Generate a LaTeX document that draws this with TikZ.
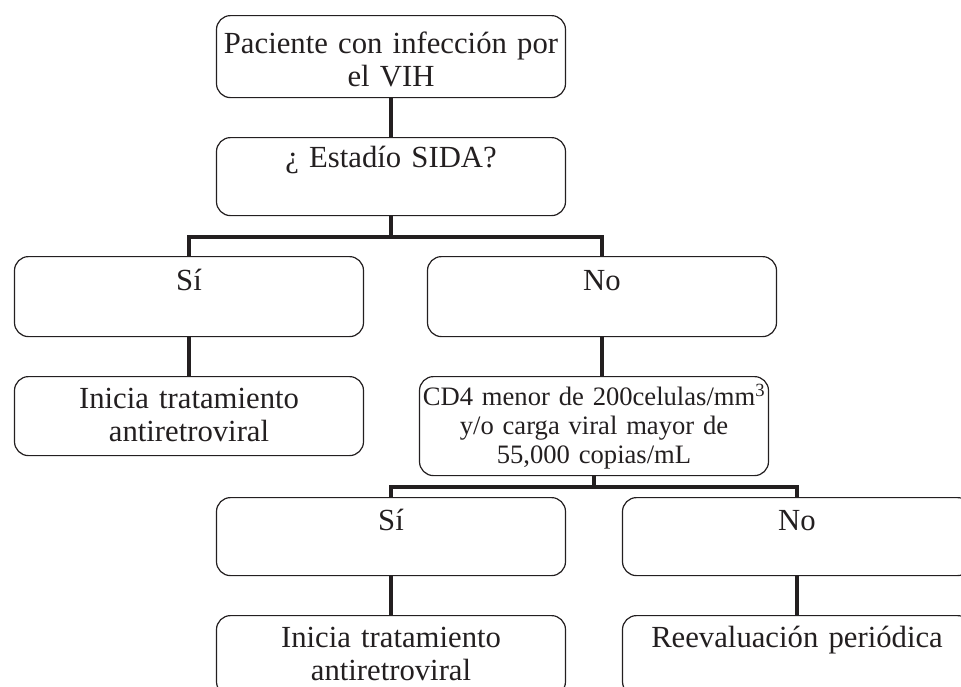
\documentclass[tikz,border=0pt]{standalone}
\usepackage{fontspec}
\setmainfont{Liberation Serif}
\usetikzlibrary{positioning}
\definecolor{ink}{HTML}{231F20}

\begin{document}
\begin{tikzpicture}[x=1pt,y=-1pt,
  box/.style={draw=ink,line width=1.2pt,rounded corners=14pt,anchor=north,
    text width=349pt,align=center,inner xsep=0pt,inner ysep=0pt,
    font=\fontsize{30.7}{33}\selectfont,text=ink},
  link/.style={draw=ink,line width=4pt}]
  \path[use as bounding box] (0,0) rectangle (961,686);
  \clip (0,0) rectangle (961,686);
  \node (pac) at (391,15)  [box,text height=38pt,text depth=44pt] {Paciente con infección por\\el VIH};
  \node (sida) at (391,137) [box,text height=30pt,text depth=48pt] {¿ Estadío SIDA?};
  \node (si) at (189,256)  [box,text height=34pt,text depth=46pt] {Sí};
  \node (no) at (602,256)  [box,text height=34pt,text depth=46pt] {No};
  \node (ini) at (189,376) [box,text height=32pt,text depth=47pt] {Inicia tratamiento\\antiretroviral};
  \node (cd) at (594,376)  [box,text height=29pt,text depth=70pt,font=\fontsize{26.6}{29}\selectfont]
    {CD4 menor de 200celulas/mm\textsuperscript{3}\\y/o carga viral mayor de\\55,000 copias/mL};
  \node (si2) at (391,497) [box,text height=33pt,text depth=45pt] {Sí};
  \node (no2) at (797,497) [box,text height=33pt,text depth=45pt] {No};
  \node (ini2) at (391,615) [box,text height=32pt,text depth=48pt] {Inicia tratamiento\\antiretroviral};
  \node (ree) at (797,615) [box,text height=32pt,text depth=48pt] {Reevaluación periódica};
  \draw[link] (pac) -- (sida);
  \draw[link] (sida.south) -- ++(0,21) -| (si.north);
  \draw[link] (sida.south) -- ++(0,21) -| (no.north);
  \draw[link] (si) -- (ini);
  \draw[link] (no) -- (no |- cd.north);
  \draw[link] (cd.south) -- ++(0,11) -| (si2.north);
  \draw[link] (cd.south) -- ++(0,11) -| (no2.north);
  \draw[link] (si2) -- (ini2);
  \draw[link] (no2) -- (ree);
\end{tikzpicture}
\end{document}
